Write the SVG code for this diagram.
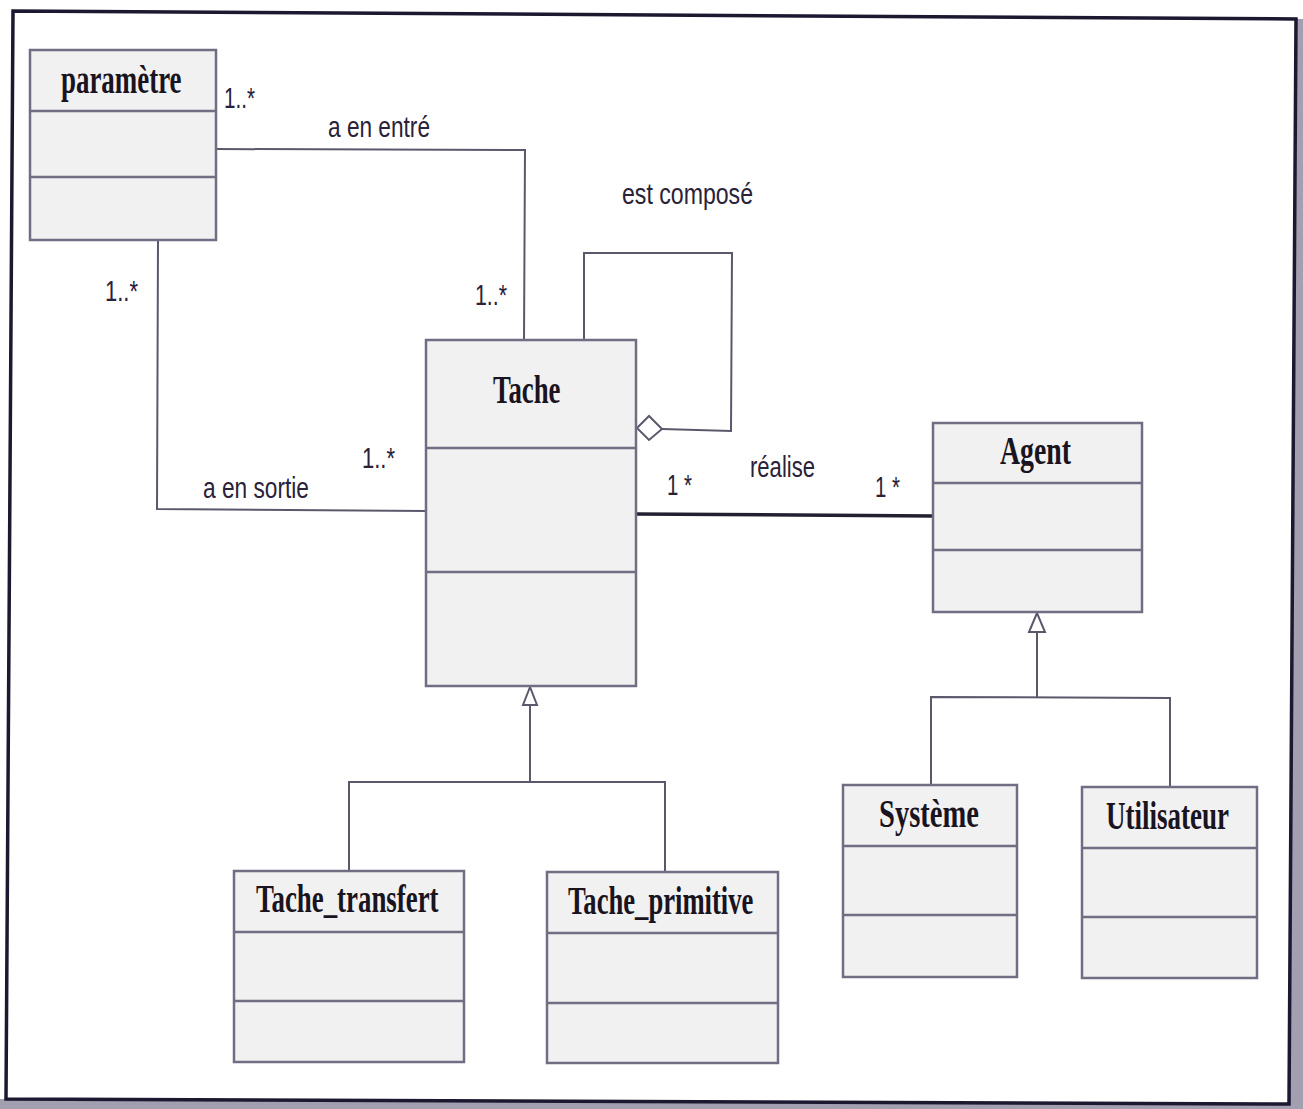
<svg xmlns="http://www.w3.org/2000/svg" width="1303" height="1109" viewBox="0 0 1303 1109">
  <defs>
    <style>
      .box { fill: #f1f1f2; stroke: #6f6e82; stroke-width: 2.5; }
      .div { stroke: #6f6e82; stroke-width: 2.5; }
      .title { font-family: "Liberation Serif", "Times New Roman", serif; font-weight: bold; font-size: 40px; fill: #1a1420; }
      .lbl { font-family: "Liberation Sans", Arial, sans-serif; font-size: 30px; fill: #2a2238; }
      .wire { fill: none; stroke: #5a596c; stroke-width: 2; }
      .thick { fill: none; stroke: #222030; stroke-width: 3.5; }
      .head { fill: #ffffff; stroke: #5a596c; stroke-width: 2; }
    </style>
  </defs>

  <rect x="0" y="0" width="1303" height="1109" fill="#ffffff"/>

  <!-- page frame with grey drop shadow -->
  <polygon points="1296,19 1303,19 1303,1109 0,1109 0,1099 1289,1104" fill="#a19fb0"/>
  <polygon points="13,11 1296,19 1289,1104 6,1099" fill="#ffffff" stroke="#1c1830" stroke-width="3.5"/>

  <!-- connectors -->
  <g id="connectors">
    <!-- a en entré -->
    <polyline class="wire" points="216,149 525,150 524,340"/>
    <!-- a en sortie -->
    <polyline class="wire" points="158,240 157,509 426,511"/>
    <!-- est composé (self aggregation) -->
    <polyline class="wire" points="584,340 584,253 732,253 731,431 662,429"/>
    <polygon class="head" points="637,428 649,416 662,429 649,440"/>
    <!-- réalise -->
    <line class="thick" x1="636" y1="514" x2="933" y2="516"/>
    <!-- Tache generalization -->
    <polyline class="wire" points="349,871 349,782 665,782 665,872"/>
    <line class="wire" x1="530" y1="782" x2="530" y2="705"/>
    <polygon class="head" points="530,687 523,705 537,705"/>
    <!-- Agent generalization -->
    <polyline class="wire" points="931,785 931,697 1170,698 1170,787"/>
    <line class="wire" x1="1037" y1="697" x2="1037" y2="632"/>
    <polygon class="head" points="1037,613 1029,632 1045,632"/>

    <!-- association labels and multiplicities -->
    <text class="lbl" x="224" y="108" textLength="31" lengthAdjust="spacingAndGlyphs">1..*</text>
    <text class="lbl" x="328" y="137" textLength="102" lengthAdjust="spacingAndGlyphs">a en entré</text>
    <text class="lbl" x="622" y="204" textLength="131" lengthAdjust="spacingAndGlyphs">est composé</text>
    <text class="lbl" x="105" y="301" textLength="33" lengthAdjust="spacingAndGlyphs">1..*</text>
    <text class="lbl" x="475" y="305" textLength="32" lengthAdjust="spacingAndGlyphs">1..*</text>
    <text class="lbl" x="362" y="468" textLength="33" lengthAdjust="spacingAndGlyphs">1..*</text>
    <text class="lbl" x="203" y="498" textLength="106" lengthAdjust="spacingAndGlyphs">a en sortie</text>
    <text class="lbl" x="667" y="495" textLength="25" lengthAdjust="spacingAndGlyphs">1 *</text>
    <text class="lbl" x="750" y="477" textLength="65" lengthAdjust="spacingAndGlyphs">réalise</text>
    <text class="lbl" x="875" y="497" textLength="25" lengthAdjust="spacingAndGlyphs">1 *</text>
  </g>

  <!-- classes: condensed bold serif names -->
  <g id="parametre">
    <rect class="box" x="30" y="50" width="186" height="190"/>
    <line class="div" x1="30" y1="111" x2="216" y2="111"/>
    <line class="div" x1="30" y1="177" x2="216" y2="177"/>
    <text class="title" transform="translate(61,93) scale(0.673,1)">paramètre</text>
  </g>

  <g id="tache">
    <rect class="box" x="426" y="340" width="210" height="346"/>
    <line class="div" x1="426" y1="448" x2="636" y2="448"/>
    <line class="div" x1="426" y1="572" x2="636" y2="572"/>
    <text class="title" transform="translate(493,403) scale(0.67,1)">Tache</text>
  </g>

  <g id="agent">
    <rect class="box" x="933" y="423" width="209" height="189"/>
    <line class="div" x1="933" y1="483" x2="1142" y2="483"/>
    <line class="div" x1="933" y1="550" x2="1142" y2="550"/>
    <text class="title" transform="translate(1000,464) scale(0.695,1)">Agent</text>
  </g>

  <g id="tache-transfert">
    <rect class="box" x="234" y="871" width="230" height="191"/>
    <line class="div" x1="234" y1="932" x2="464" y2="932"/>
    <line class="div" x1="234" y1="1001" x2="464" y2="1001"/>
    <text class="title" transform="translate(256,912) scale(0.672,1)">Tache_transfert</text>
  </g>

  <g id="tache-primitive">
    <rect class="box" x="547" y="872" width="231" height="191"/>
    <line class="div" x1="547" y1="933" x2="778" y2="933"/>
    <line class="div" x1="547" y1="1003" x2="778" y2="1003"/>
    <text class="title" transform="translate(568,914) scale(0.666,1)">Tache_primitive</text>
  </g>

  <g id="systeme">
    <rect class="box" x="843" y="785" width="174" height="192"/>
    <line class="div" x1="843" y1="846" x2="1017" y2="846"/>
    <line class="div" x1="843" y1="915" x2="1017" y2="915"/>
    <text class="title" transform="translate(879,827) scale(0.714,1)">Système</text>
  </g>

  <g id="utilisateur">
    <rect class="box" x="1082" y="787" width="175" height="191"/>
    <line class="div" x1="1082" y1="848" x2="1257" y2="848"/>
    <line class="div" x1="1082" y1="917" x2="1257" y2="917"/>
    <text class="title" transform="translate(1106,829) scale(0.675,1)">Utilisateur</text>
  </g>
</svg>
